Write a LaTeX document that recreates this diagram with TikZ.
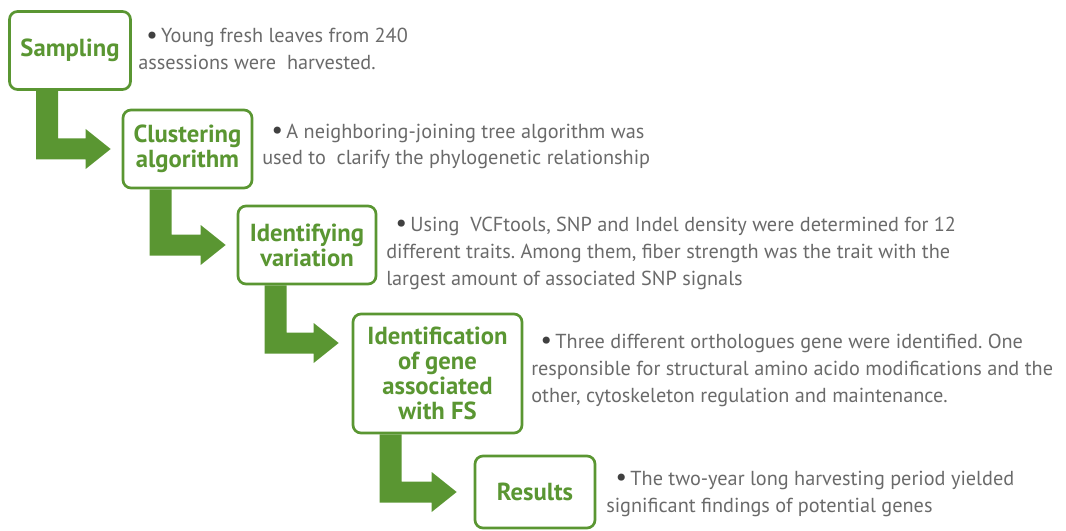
\documentclass[tikz,border=0pt]{standalone}
\usepackage{fontspec}
\setmainfont{PT Sans}
\usetikzlibrary{calc,backgrounds}
\frenchspacing
\definecolor{leaf}{HTML}{5A9632}
\definecolor{txt}{HTML}{6A6A6A}
\definecolor{dotc}{HTML}{404040}
\tikzset{
  x=0.75pt, y=-0.75pt,
  stepbox/.style={draw=leaf, line width=2pt, rounded corners=6pt, fill=white,
    text=leaf, font=\fontsize{18.5}{18.75}\selectfont\bfseries, align=center,
    inner sep=0pt},
  desc/.style={anchor=base west, text=txt, align=left, inner sep=0pt,
    font=\fontsize{15.2}{20.25}\selectfont\frenchspacing},
  arrowfill/.style={fill=leaf}
}
\newcommand\bul{\textcolor{dotc}{\scalebox{1.25}{\textbullet}}\,}
\newcommand\flowarrow[2]{%
  \coordinate (#1-l) at ($(#1.south west)+(28,0)$);
  \coordinate (#1-r) at ($(#1.south west)+(50,0)$);
  \fill[arrowfill] (#1-l) -- ($(#1-l |- #2)+(0,10.5)$) -- ($(#2)+(-25,10.5)$)
    -- ($(#2)+(-25,20)$) -- (#2) -- ($(#2)+(-25,-20)$) -- ($(#2)+(-25,-10.5)$)
    -- ($(#1-r |- #2)+(0,-10.5)$) -- (#1-r) -- cycle;}
\begin{document}
\begin{tikzpicture}
\useasboundingbox (0,0) rectangle (1066,531);
% boxes
\path (70,50.5) node[stepbox, minimum width=90.75pt, minimum height=58.5pt] (s1) {Sampling};
\path (187.5,149) node[stepbox, minimum width=96.75pt, minimum height=58.5pt] (s2) {Clustering\\algorithm};
\path (307,245) node[stepbox, minimum width=103.5pt, minimum height=58.5pt] (s3) {Identifying\\variation};
\path (437.5,373.5) node[stepbox, minimum width=126.75pt, minimum height=89.25pt] (s4) {Identification\\of gene\\associated\\with FS};
\path (535,492) node[stepbox, minimum width=90pt, minimum height=54pt] (s5) {Results};
% arrow tips
\coordinate (t1) at ($(s2.west)+(-11,0)$);
\coordinate (t2) at ($(s3.west)+(-11,0)$);
\coordinate (t3) at ($(s4.west)+(-13,-30.5)$);
\coordinate (t4) at ($(s5.west)+(-17,0)$);
% arrows behind boxes
\begin{scope}[on background layer]
\flowarrow{s1}{t1}
\flowarrow{s2}{t2}
\flowarrow{s3}{t3}
\flowarrow{s4}{t4}
\end{scope}
% descriptions (anchored at the baseline of the last line)
\node[desc] (d1) at (138,70) {\hspace*{6pt}\bul Young fresh leaves from 240\\assessions were\ \ harvested.};
\node[desc] (d2) at (262,165) {\hspace*{7pt}\bul A neighboring-joining tree algorithm was\\used to\ \ clarify the phylogenetic relationship};
\node[desc] (d3) at (386,285) {\hspace*{7pt}\bul Using\ \ VCFtools, SNP and Indel density were determined for 12\\different traits. Among them, fiber strength was the trait with the\\largest amount of associated SNP signals};
\node[desc] (d4) at (531,402) {\hspace*{7pt}\bul Three different orthologues gene were identified. One\\responsible for structural amino acido modifications and the\\other, cytoskeleton regulation and maintenance.};
\node[desc] (d5) at (606,512) {\hspace*{7pt}\bul The two-year long harvesting period yielded\\significant findings of potential genes};
\end{tikzpicture}
\end{document}
